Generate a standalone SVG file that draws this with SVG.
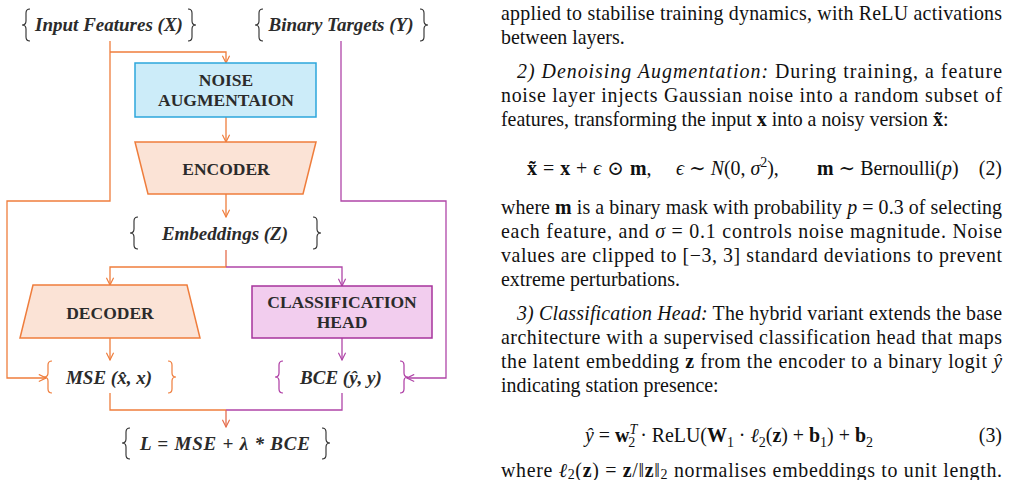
<svg xmlns="http://www.w3.org/2000/svg" width="1011" height="480" viewBox="0 0 1011 480">
<style>
.lbl{font-family:"Liberation Serif","DejaVu Serif",serif;font-weight:bold;font-style:italic;font-size:19px;fill:#2b2b2b;text-anchor:middle}
.box{font-family:"Liberation Serif","DejaVu Serif",serif;font-weight:bold;font-size:17.5px;fill:#2b2b2b;text-anchor:middle}
.br{fill:none;stroke:#2b2b2b;stroke-width:1.1}
.bro{fill:none;stroke:#ef7d3c;stroke-width:1.2}
.brp{fill:none;stroke:#ad3aa3;stroke-width:1.2}
.o{fill:none;stroke:#ef7d3c;stroke-width:1.3}
.p{fill:none;stroke:#b046a8;stroke-width:1.3}
.m{fill:none;stroke:#e56d4c;stroke-width:1.3}
.trap{fill:#fbe3d6;stroke:#ef7d3c;stroke-width:1.5}
.t{font-family:"Liberation Serif","DejaVu Serif",serif;font-size:19.9px;fill:#111}
.i{font-style:italic}
.b{font-weight:bold}
.s{font-size:14px}
</style>
<defs>
<marker id="ao" viewBox="0 0 10 10" refX="9" refY="5" markerWidth="9" markerHeight="9" markerUnits="userSpaceOnUse" orient="auto"><path d="M1,1 L9,5 L1,9" fill="none" stroke="#ef7d3c" stroke-width="1.3"/></marker>
<marker id="ap" viewBox="0 0 10 10" refX="9" refY="5" markerWidth="9" markerHeight="9" markerUnits="userSpaceOnUse" orient="auto"><path d="M1,1 L9,5 L1,9" fill="none" stroke="#b046a8" stroke-width="1.3"/></marker>
<marker id="am" viewBox="0 0 10 10" refX="9" refY="5" markerWidth="9" markerHeight="9" markerUnits="userSpaceOnUse" orient="auto"><path d="M1,1 L9,5 L1,9" fill="none" stroke="#e56d4c" stroke-width="1.3"/></marker>
</defs>

<g id="connectors">
<path class="o" d="M110,41 V201 H7 V378 H46" marker-end="url(#ao)"/>
<path class="o" d="M110,52 H226 V63" marker-end="url(#ao)"/>
<path class="o" d="M226,117 V142" marker-end="url(#ao)"/>
<path class="o" d="M226,194 V217" marker-end="url(#ao)"/>
<path class="p" d="M341,41 V201 H446 V378 H407" marker-end="url(#ap)"/>
<path class="m" d="M226,250 V267"/>
<path class="o" d="M226,267 H110 V285" marker-end="url(#ao)"/>
<path class="p" d="M226,267 H342 V286" marker-end="url(#ap)"/>
<path class="o" d="M110,338 V360" marker-end="url(#ao)"/>
<path class="p" d="M342,338 V360" marker-end="url(#ap)"/>
<path class="o" d="M110,393 V410 H226"/>
<path class="p" d="M342,393 V410 H226"/>
<path class="m" d="M226,410 V427" marker-end="url(#am)"/>
</g>

<g id="input">
<path class="br" d="M30,9 Q26,9 26,13 V21 Q26,25 22,25 Q26,25 26,29 V37 Q26,41 30,41"/>
<text class="lbl" x="109" y="31">Input Features (X)</text>
<path class="br" d="M188,9 Q192,9 192,13 V21 Q192,25 196,25 Q192,25 192,29 V37 Q192,41 188,41"/>
</g>

<g id="targets">
<path class="br" d="M263,9 Q259,9 259,13 V21 Q259,25 255,25 Q259,25 259,29 V37 Q259,41 263,41"/>
<text class="lbl" x="341" y="31">Binary Targets (Y)</text>
<path class="br" d="M420,9 Q424,9 424,13 V21 Q424,25 428,25 Q424,25 424,29 V37 Q424,41 420,41"/>
</g>

<g id="noise">
<rect x="135" y="63" width="181" height="54" fill="#ccecf9" stroke="#2ca6db" stroke-width="1.5"/>
<text class="box" x="226" y="86">NOISE</text>
<text class="box" x="226" y="106">AUGMENTAION</text>
</g>

<g id="encoder">
<polygon class="trap" points="135,142 316,142 303,194 148,194"/>
<text class="box" x="226" y="175">ENCODER</text>
</g>

<g id="embeddings">
<path class="br" d="M138,217 Q134,217 134,221 V229 Q134,233 130,233 Q134,233 134,237 V245 Q134,249 138,249"/>
<text class="lbl" x="225" y="240">Embeddings (Z)</text>
<path class="br" d="M313,217 Q317,217 317,221 V229 Q317,233 321,233 Q317,233 317,237 V245 Q317,249 313,249"/>
</g>

<g id="decoder">
<polygon class="trap" points="33,285 187,285 200,338 20,338"/>
<text class="box" x="110" y="319">DECODER</text>
</g>

<g id="classhead">
<rect x="252" y="286" width="180" height="52" fill="#f2cdee" stroke="#a7339c" stroke-width="1.5"/>
<text class="box" x="342" y="308">CLASSIFICATION</text>
<text class="box" x="342" y="328">HEAD</text>
</g>

<g id="mse">
<path class="bro" d="M52,361 Q48,361 48,365 V373 Q48,377 44,377 Q48,377 48,381 V389 Q48,393 52,393"/>
<text class="lbl" x="109" y="384">MSE (x̂, x)</text>
<path class="bro" d="M168,361 Q172,361 172,365 V373 Q172,377 176,377 Q172,377 172,381 V389 Q172,393 168,393"/>
</g>

<g id="bce">
<path class="brp" d="M283,361 Q279,361 279,365 V373 Q279,377 275,377 Q279,377 279,381 V389 Q279,393 283,393"/>
<text class="lbl" x="341" y="384">BCE (ŷ, y)</text>
<path class="brp" d="M400,361 Q404,361 404,365 V373 Q404,377 408,377 Q404,377 404,381 V389 Q404,393 400,393"/>
</g>

<g id="loss">
<path class="br" d="M130,428 Q126,428 126,432 V439 Q126,443 122,443 Q126,443 126,447 V455 Q126,459 130,459"/>
<text class="lbl" x="225" y="450" textLength="170" lengthAdjust="spacing">L = MSE + λ * BCE</text>
<path class="br" d="M322,428 Q326,428 326,432 V439 Q326,443 330,443 Q326,443 326,447 V455 Q326,459 322,459"/>
</g>

<g id="paper">
<text class="t" x="501" y="20" textLength="501" lengthAdjust="spacing">applied to stabilise training dynamics, with ReLU activations</text>
<text class="t" x="501" y="44">between layers.</text>
<text class="t" x="517" y="78" textLength="485" lengthAdjust="spacing"><tspan class="i">2) Denoising Augmentation:</tspan>  During training, a feature</text>
<text class="t" x="501" y="102" textLength="501" lengthAdjust="spacing">noise layer injects Gaussian noise into a random subset of</text>
<text class="t" x="501" y="126">features, transforming the input <tspan class="b">x</tspan> into a noisy version <tspan class="b">x̃</tspan>:</text>
<text class="t" x="527" y="175" word-spacing="1"><tspan class="b">x̃</tspan> = <tspan class="b">x</tspan> + <tspan class="i">ϵ</tspan> ⊙ <tspan class="b">m</tspan>,</text>
<text class="t" x="676" y="175"><tspan class="i">ϵ</tspan> ∼ <tspan class="i">N</tspan>(0, <tspan class="i">σ</tspan><tspan class="s" dy="-8">2</tspan><tspan dy="8">),</tspan></text>
<text class="t" x="817" y="175"><tspan class="b">m</tspan> ∼ Bernoulli(<tspan class="i">p</tspan>)</text>
<text class="t" x="1002" y="175" text-anchor="end">(2)</text>
<text class="t" x="501" y="214" textLength="501" lengthAdjust="spacing">where <tspan class="b">m</tspan> is a binary mask with probability <tspan class="i">p</tspan> = 0.3 of selecting</text>
<text class="t" x="501" y="238" textLength="501" lengthAdjust="spacing">each feature, and <tspan class="i">σ</tspan> = 0.1 controls noise magnitude. Noise</text>
<text class="t" x="501" y="262" textLength="501" lengthAdjust="spacing">values are clipped to [−3, 3] standard deviations to prevent</text>
<text class="t" x="501" y="286">extreme perturbations.</text>
<text class="t" x="517" y="320" textLength="485" lengthAdjust="spacing"><tspan class="i">3) Classification Head:</tspan> The hybrid variant extends the base</text>
<text class="t" x="501" y="344" textLength="501" lengthAdjust="spacing">architecture with a supervised classification head that maps</text>
<text class="t" x="501" y="368" textLength="501" lengthAdjust="spacing">the latent embedding <tspan class="b">z</tspan> from the encoder to a binary logit <tspan class="i">ŷ</tspan></text>
<text class="t" x="501" y="392">indicating station presence:</text>
<text class="t" x="585" y="442"><tspan class="i">ŷ</tspan> = <tspan class="b">w</tspan><tspan class="s i" dy="-8">T</tspan><tspan class="s" dx="-9" dy="13">2</tspan><tspan dy="-5"> · ReLU(</tspan><tspan class="b">W</tspan><tspan class="s" dy="5">1</tspan><tspan dy="-5"> · </tspan><tspan class="i">ℓ</tspan><tspan class="s" dy="5">2</tspan><tspan dy="-5">(</tspan><tspan class="b">z</tspan>) + <tspan class="b">b</tspan><tspan class="s" dy="5">1</tspan><tspan dy="-5">) + </tspan><tspan class="b">b</tspan><tspan class="s" dy="5">2</tspan></text>
<text class="t" x="1002" y="442" text-anchor="end">(3)</text>
<text class="t" x="501" y="477" textLength="501" lengthAdjust="spacing">where <tspan class="i">ℓ</tspan><tspan class="s" dy="2">2</tspan><tspan dy="-2">(</tspan><tspan class="b">z</tspan>) = <tspan class="b">z</tspan>/‖<tspan class="b">z</tspan>‖<tspan class="s" dy="2">2</tspan><tspan dy="-2"> normalises embeddings to unit length.</tspan></text>
</g>
</svg>
